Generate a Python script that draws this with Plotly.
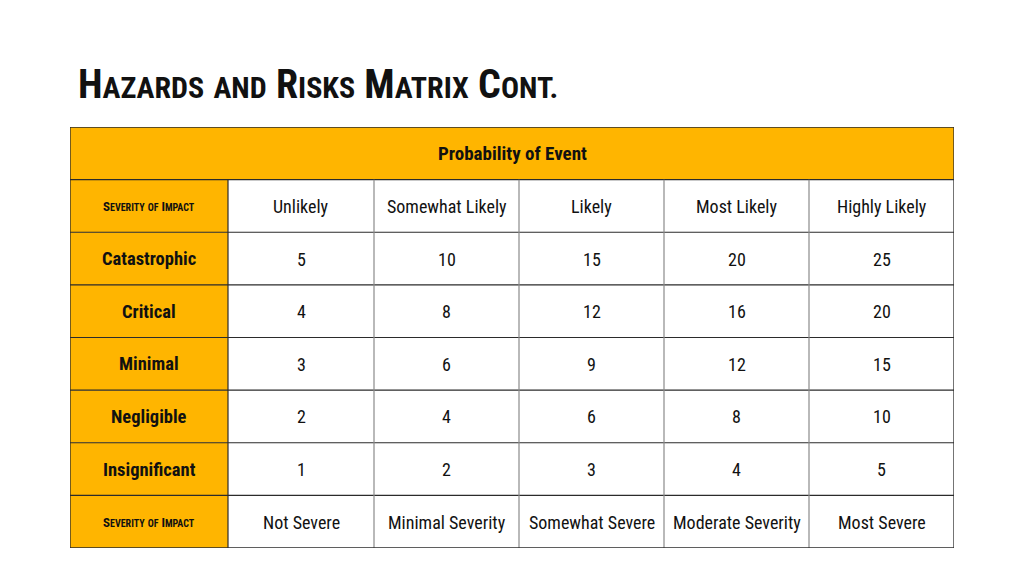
import plotly.graph_objects as go

# ---- data ----
title_text = "Hazards and Risks Matrix Cont."
header_text = "Probability of Event"
probability_labels = ["Unlikely", "Somewhat Likely", "Likely", "Most Likely", "Highly Likely"]
severity_labels = ["Catastrophic", "Critical", "Minimal", "Negligible", "Insignificant"]
risk_values = [
    [5, 10, 15, 20, 25],
    [4, 8, 12, 16, 20],
    [3, 6, 9, 12, 15],
    [2, 4, 6, 8, 10],
    [1, 2, 3, 4, 5],
]
severity_scale_labels = ["Not Severe", "Minimal Severity", "Somewhat Severe", "Moderate Severity", "Most Severe"]
corner_label = "Severity of Impact"

# ---- style ----
ORANGE = "#FFB500"
DARK = "#2b2b2b"
GRAY = "#8a8a8a"
FONT = "Roboto Condensed, Liberation Sans Narrow, Arial Narrow, sans-serif"
col_widths = [158, 146, 145, 145, 145, 145]
row_h = 52.6
n_rows = 2 + len(severity_labels) + 1
PAGE_OFF = 8  # default body margin of the html page

col_edges = [0]
for w in col_widths:
    col_edges.append(col_edges[-1] + w)
total_w = col_edges[-1]
total_h = row_h * n_rows


def small_caps(text, big, small):
    out = []
    for word in text.split(" "):
        first, rest = word[0], word[1:]
        if first.isupper():
            out.append(f"<span style='font-size:{big}px'>{first.upper()}</span>"
                       f"<span style='font-size:{small}px'>{rest.upper()}</span>")
        else:
            out.append(f"<span style='font-size:{small}px'>{word.upper()}</span>")
    return " ".join(out)


shapes = []
annotations = []


def cell(c0, c1, r, fill, text, size, bold=False, color="#111"):
    x0, x1 = col_edges[c0], col_edges[c1]
    y0, y1 = r * row_h, (r + 1) * row_h
    shapes.append(dict(type="rect", xref="x", yref="y", x0=x0, x1=x1, y0=y0, y1=y1,
                       fillcolor=fill, line=dict(width=0), layer="below"))
    if text is not None:
        t = f"<b>{text}</b>" if bold else text
        annotations.append(dict(xref="x", yref="y", x=(x0 + x1) / 2, y=(y0 + y1) / 2 + 0.5,
                                text=t, showarrow=False, xanchor="center", yanchor="middle",
                                font=dict(family=FONT, size=size, color=color)))


# header row
cell(0, 6, 0, ORANGE, header_text, 19, bold=True)
# probability label row
cell(0, 1, 1, ORANGE, "<b>" + small_caps(corner_label, 13, 10) + "</b>", 13)
for j, lab in enumerate(probability_labels):
    cell(j + 1, j + 2, 1, "white", lab, 18)
# body rows
for i, sev in enumerate(severity_labels):
    cell(0, 1, i + 2, ORANGE, sev, 18.5, bold=True)
    for j, v in enumerate(risk_values[i]):
        cell(j + 1, j + 2, i + 2, "white", str(v), 18)
# bottom row
last = n_rows - 1
cell(0, 1, last, ORANGE, "<b>" + small_caps(corner_label, 13, 10) + "</b>", 13)
for j, lab in enumerate(severity_scale_labels):
    cell(j + 1, j + 2, last, "white", lab, 18)

# grid lines
for r in range(1, n_rows):
    shapes.append(dict(type="line", xref="x", yref="y", x0=0, x1=total_w, y0=r * row_h, y1=r * row_h,
                       line=dict(color=DARK, width=1.2)))
for k in range(1, len(col_edges) - 1):
    shapes.append(dict(type="line", xref="x", yref="y", x0=col_edges[k], x1=col_edges[k],
                       y0=row_h, y1=total_h,
                       line=dict(color=DARK if k == 1 else GRAY, width=1.2)))
shapes.append(dict(type="rect", xref="x", yref="y", x0=0, x1=total_w, y0=0, y1=total_h,
                   line=dict(color=DARK, width=1.3)))

fig = go.Figure()
fig.add_trace(go.Scatter(x=[0, total_w], y=[0, total_h], mode="markers",
                         marker=dict(opacity=0), hoverinfo="skip", showlegend=False))
left, top = 70 - PAGE_OFF, 127 - PAGE_OFF
fig.update_layout(
    width=1024, height=576,
    margin=dict(l=left, r=1024 - left - total_w, t=top, b=576 - top - round(total_h)),
    paper_bgcolor="white", plot_bgcolor="white",
    xaxis=dict(range=[0, total_w], visible=False, fixedrange=True),
    yaxis=dict(range=[total_h, 0], visible=False, fixedrange=True),
    shapes=shapes, annotations=annotations, showlegend=False,
    title=dict(text="<b>" + small_caps(title_text.title().replace("And", "and"), 40, 30) + "</b>",
               xref="container", yref="container", x=(78 - PAGE_OFF) / 1024, xanchor="left",
               y=1 - (84 - PAGE_OFF) / 576, yanchor="middle",
               font=dict(family=FONT, size=40, color="#111")),
)
fig.write_html("out.html")
